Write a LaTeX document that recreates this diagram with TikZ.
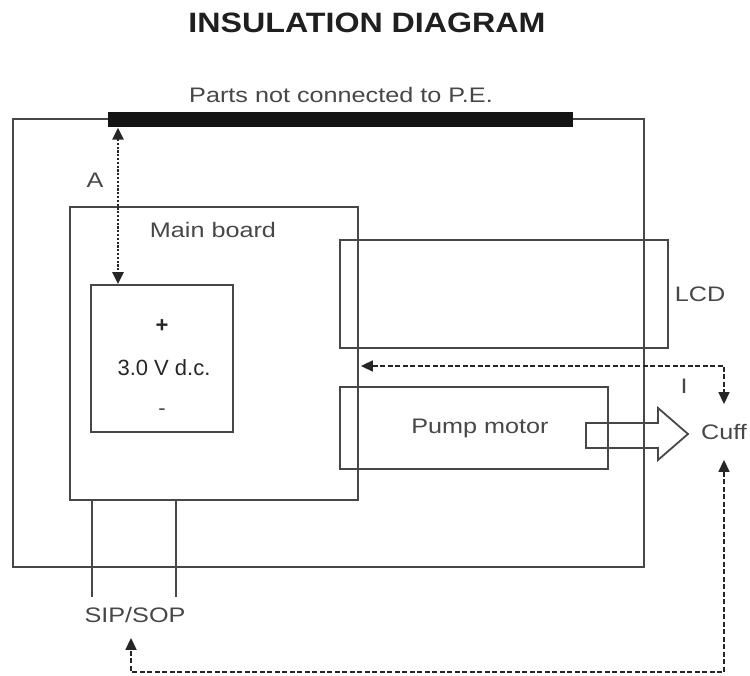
\documentclass[tikz,border=0pt]{standalone}
\usepackage{fontspec}
\usepackage{graphicx}
\setmainfont{Liberation Sans}
\usetikzlibrary{arrows.meta,positioning}

\newcommand{\wide}[1]{\scalebox{1.2}[1]{#1}}

\begin{document}
\begin{tikzpicture}[
  x=1pt, y=-1pt,
  box/.style={draw=black!72, line width=1.8pt, inner sep=0pt},
  lbl/.style={text=black!72, font=\fontsize{21}{21}\selectfont, inner sep=1pt},
  dotarr/.style={{Triangle[length=12pt,width=11pt]}-{Triangle[length=12pt,width=11pt]}, line width=2.6pt, dash pattern=on 2.2pt off 1.6pt, black!85},
  dasharr/.style={{Triangle[length=12pt,width=11pt]}-{Triangle[length=12pt,width=11pt]}, line width=1.6pt, dash pattern=on 5pt off 2.5pt, black!85},
  lead/.style={draw=black!72, line width=1.8pt}
]
\useasboundingbox (0,0) rectangle (750,676);

\node[text=black!88, font=\bfseries\fontsize{28}{28}\selectfont] (title) at (367,23) {\scalebox{1.15}[1]{INSULATION DIAGRAM}};

% housing and the parts not connected to P.E.
\node[box, minimum width=631pt, minimum height=448pt] (housing) at (328.5,343) {};
\node[fill=black!92, inner sep=0pt, minimum width=465pt, minimum height=15pt] (bar) at (340.5,120) {};
\node[lbl] (parts) at (341,95) {\wide{Parts not connected to P.E.}};

% main board with the battery
\node[box, minimum width=288pt, minimum height=293pt] (board) at (214,353.5) {};
\node[lbl] (boardlbl) at (213,230) {\wide{Main board}};
\node[box, minimum width=142pt, minimum height=147pt] (batt) at (162,358.5) {};
\node[text=black!85, font=\bfseries\fontsize{22}{22}\selectfont] (plus) at (162,326) {+};
\node[text=black!85, font=\fontsize{22}{22}\selectfont] (volt) at (164,368) {3.0 V d.c.};
\node[text=black!70, font=\fontsize{22}{22}\selectfont] (minus) at (162,412) {-};

% LCD and pump
\node[box, minimum width=328pt, minimum height=108pt] (lcd) at (504,294) {};
\node[lbl] (lcdlbl) at (700,294) {\wide{LCD}};
\node[box, minimum width=268pt, minimum height=82pt] (pump) at (474,428) {};
\node[lbl] (pumplbl) at (480,428) {\wide{Pump motor}};
\draw[box] (586,423) -- (658,423) -- (658,408) -- (688,434) -- (658,460) -- (658,448) -- (586,448) -- cycle;
\node[lbl, inner ysep=20pt] (cuff) at (724,432) {\wide{Cuff}};

% patient connections
\node[lbl, inner ysep=15pt] (sip) at (135,615) {\wide{SIP/SOP}};
\coordinate (p1) at (92,597);
\coordinate (p2) at (176,597);
\draw[lead] (p1 |- board.south) -- (p1);
\draw[lead] (p2 |- board.south) -- (p2);

% insulation paths
\coordinate (ax) at (118,0);
\draw[dotarr] (ax |- bar.south) -- (ax |- batt.north);
\node[lbl] (alb) at (95,180) {\wide{A}};

\coordinate (iy) at (0,366);
\draw[dasharr, shorten <=2pt] (board.east |- iy) -- (cuff.north |- iy) -- (cuff.north);
\node[lbl] (ilb) at (684,386) {\wide{I}};

\coordinate (bot) at (131,672);
\draw[dasharr] (cuff.south) |- (bot) -- (bot |- sip.south);
\end{tikzpicture}
\end{document}
